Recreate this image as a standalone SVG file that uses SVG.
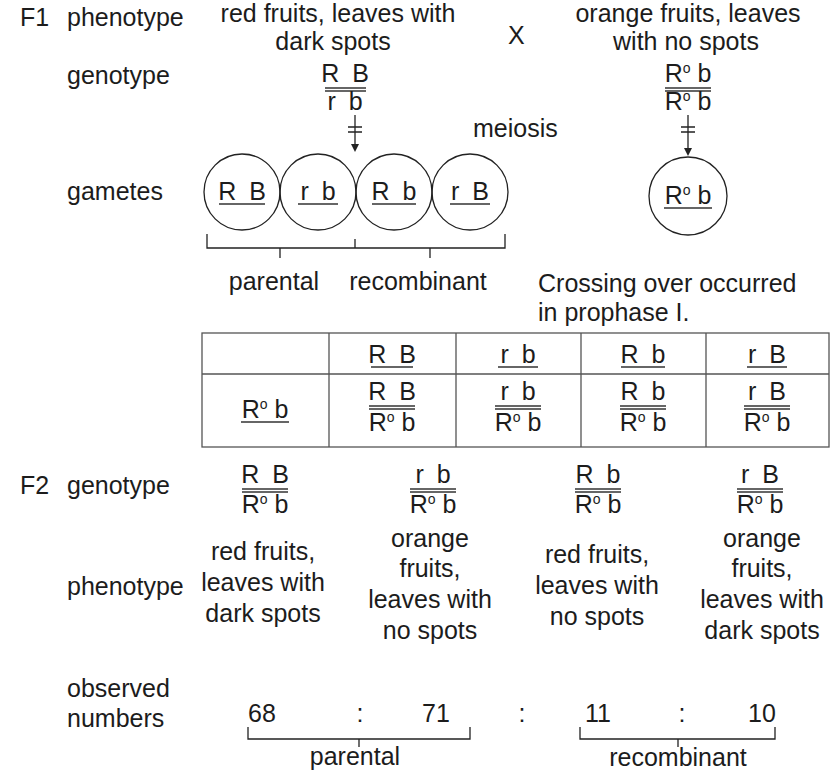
<svg xmlns="http://www.w3.org/2000/svg" width="837" height="773" viewBox="0 0 837 773">
<style>
text{font-family:"Liberation Sans",Arial,sans-serif;font-size:25px;fill:#1c1c1c}
.m{text-anchor:middle}
.g{word-spacing:6px}
.sup{font-size:14px}
.ln{stroke:#222;stroke-width:1.3;fill:none}
.ul{stroke:#333;stroke-width:1.3}
.tb{stroke:#555;stroke-width:1.3;fill:none}
.ar{stroke:#222;stroke-width:1.3;fill:none}
.ah{fill:#222}
</style>
<g id="labels">
<text x="20" y="26">F1</text>
<text x="67" y="26">phenotype</text>
<text x="67" y="84">genotype</text>
<text x="67" y="200">gametes</text>
<text x="473" y="137">meiosis</text>
<text x="20" y="494">F2</text>
<text x="67" y="494">genotype</text>
<text x="67" y="595">phenotype</text>
<text x="67" y="697">observed</text>
<text x="67" y="727">numbers</text>
</g>
<g id="parent1">
<text class="m" x="338" y="22">red fruits, leaves with</text>
<text class="m" x="333" y="50">dark spots</text>
<text class="m g" x="345" y="82">R B</text>
<line class="ul" x1="325" y1="88" x2="366" y2="88"/>
<line class="ul" x1="325" y1="91" x2="366" y2="91"/>
<text class="m g" x="345" y="110">r b</text>
</g>
<text id="cross" x="508" y="44">X</text>
<g id="parent2">
<text class="m" x="688" y="22">orange fruits, leaves</text>
<text class="m" x="686" y="50">with no spots</text>
<text class="m" x="688" y="82">R<tspan class="sup" dy="-9">o</tspan><tspan dy="9"> b</tspan></text>
<line class="ul" x1="665" y1="88" x2="711" y2="88"/>
<line class="ul" x1="665" y1="91" x2="711" y2="91"/>
<text class="m" x="688" y="110">R<tspan class="sup" dy="-9">o</tspan><tspan dy="9"> b</tspan></text>
</g>
<g id="connectors">
<path class="ar" d="M355,115 V146 M348,127 H362 M348,132 H362"/>
<path class="ah" d="M351,144 L359,144 L355,152 Z"/>
<path class="ar" d="M688,115 V150 M681,127 H695 M681,132 H695"/>
<path class="ah" d="M684,148 L692,148 L688,156 Z"/>
<path class="ln" d="M207,234 V248 H355 V239 M355,248 H505 V234 M280,248 V258 M430,248 V258"/>
<path class="ln" d="M248,727 V739 H470 V727 M359,739 V747 M580,727 V739 H775 V727 M678,739 V747"/>
</g>
<g id="gametes1">
<circle class="ln" cx="242" cy="192" r="38"/>
<text class="m g" x="242" y="200">R B</text>
<line class="ul" x1="219" y1="204" x2="265" y2="204"/>
<circle class="ln" cx="318" cy="192" r="38"/>
<text class="m g" x="318" y="200">r b</text>
<line class="ul" x1="298" y1="204" x2="338" y2="204"/>
<circle class="ln" cx="394" cy="192" r="38"/>
<text class="m g" x="394" y="200">R b</text>
<line class="ul" x1="372" y1="204" x2="416" y2="204"/>
<circle class="ln" cx="470" cy="192" r="38"/>
<text class="m g" x="470" y="200">r B</text>
<line class="ul" x1="450" y1="204" x2="490" y2="204"/>
</g>
<g id="gamete2">
<circle class="ln" cx="688" cy="196" r="39"/>
<text class="m" x="688" y="204">R<tspan class="sup" dy="-9">o</tspan><tspan dy="9"> b</tspan></text>
<line class="ul" x1="664" y1="208" x2="712" y2="208"/>
</g>
<g id="bracket-labels">
<text class="m" x="274" y="290">parental</text>
<text class="m" x="418" y="290">recombinant</text>
<text x="538" y="292">Crossing over occurred</text>
<text x="538" y="321">in prophase I.</text>
</g>
<g id="table">
<rect class="tb" x="202" y="333" width="627" height="114"/>
<path class="tb" d="M202,374 H829 M329,333 V447 M456,333 V447 M581,333 V447 M706,333 V447"/>
<text class="m g" x="392" y="363">R B</text>
<line class="ul" x1="371" y1="367" x2="413" y2="367"/>
<text class="m g" x="518" y="363">r b</text>
<line class="ul" x1="498" y1="367" x2="538" y2="367"/>
<text class="m g" x="643" y="363">R b</text>
<line class="ul" x1="621" y1="367" x2="665" y2="367"/>
<text class="m g" x="767" y="363">r B</text>
<line class="ul" x1="747" y1="367" x2="787" y2="367"/>
<text class="m" x="265" y="418">R<tspan class="sup" dy="-9">o</tspan><tspan dy="9"> b</tspan></text>
<line class="ul" x1="241" y1="422" x2="289" y2="422"/>
<text class="m g" x="392" y="400">R B</text>
<line class="ul" x1="369" y1="406" x2="415" y2="406"/>
<line class="ul" x1="369" y1="409" x2="415" y2="409"/>
<text class="m" x="392" y="431">R<tspan class="sup" dy="-9">o</tspan><tspan dy="9"> b</tspan></text>
<text class="m g" x="518" y="400">r b</text>
<line class="ul" x1="495" y1="406" x2="541" y2="406"/>
<line class="ul" x1="495" y1="409" x2="541" y2="409"/>
<text class="m" x="518" y="431">R<tspan class="sup" dy="-9">o</tspan><tspan dy="9"> b</tspan></text>
<text class="m g" x="643" y="400">R b</text>
<line class="ul" x1="620" y1="406" x2="666" y2="406"/>
<line class="ul" x1="620" y1="409" x2="666" y2="409"/>
<text class="m" x="643" y="431">R<tspan class="sup" dy="-9">o</tspan><tspan dy="9"> b</tspan></text>
<text class="m g" x="767" y="400">r B</text>
<line class="ul" x1="744" y1="406" x2="790" y2="406"/>
<line class="ul" x1="744" y1="409" x2="790" y2="409"/>
<text class="m" x="767" y="431">R<tspan class="sup" dy="-9">o</tspan><tspan dy="9"> b</tspan></text>
</g>
<g id="f2-genotypes">
<text class="m g" x="265" y="483">R B</text>
<line class="ul" x1="242" y1="489" x2="288" y2="489"/>
<line class="ul" x1="242" y1="492" x2="288" y2="492"/>
<text class="m" x="265" y="513">R<tspan class="sup" dy="-9">o</tspan><tspan dy="9"> b</tspan></text>
<text class="m g" x="433" y="483">r b</text>
<line class="ul" x1="410" y1="489" x2="456" y2="489"/>
<line class="ul" x1="410" y1="492" x2="456" y2="492"/>
<text class="m" x="433" y="513">R<tspan class="sup" dy="-9">o</tspan><tspan dy="9"> b</tspan></text>
<text class="m g" x="598" y="483">R b</text>
<line class="ul" x1="575" y1="489" x2="621" y2="489"/>
<line class="ul" x1="575" y1="492" x2="621" y2="492"/>
<text class="m" x="598" y="513">R<tspan class="sup" dy="-9">o</tspan><tspan dy="9"> b</tspan></text>
<text class="m g" x="760" y="483">r B</text>
<line class="ul" x1="737" y1="489" x2="783" y2="489"/>
<line class="ul" x1="737" y1="492" x2="783" y2="492"/>
<text class="m" x="760" y="513">R<tspan class="sup" dy="-9">o</tspan><tspan dy="9"> b</tspan></text>
</g>
<g id="f2-phenotypes">
<text class="m" x="263" y="560">red fruits,</text>
<text class="m" x="263" y="591">leaves with</text>
<text class="m" x="263" y="622">dark spots</text>
<text class="m" x="430" y="547">orange</text>
<text class="m" x="430" y="577">fruits,</text>
<text class="m" x="430" y="608">leaves with</text>
<text class="m" x="430" y="639">no spots</text>
<text class="m" x="597" y="563">red fruits,</text>
<text class="m" x="597" y="594">leaves with</text>
<text class="m" x="597" y="625">no spots</text>
<text class="m" x="762" y="547">orange</text>
<text class="m" x="762" y="577">fruits,</text>
<text class="m" x="762" y="608">leaves with</text>
<text class="m" x="762" y="639">dark spots</text>
</g>
<g id="numbers">
<text class="m" x="262" y="722">68</text>
<text class="m" x="360" y="722">:</text>
<text class="m" x="436" y="722">71</text>
<text class="m" x="522" y="722">:</text>
<text class="m" x="598" y="722">11</text>
<text class="m" x="682" y="722">:</text>
<text class="m" x="762" y="722">10</text>
<text class="m" x="355" y="765">parental</text>
<text class="m" x="678" y="766">recombinant</text>
</g>
</svg>
